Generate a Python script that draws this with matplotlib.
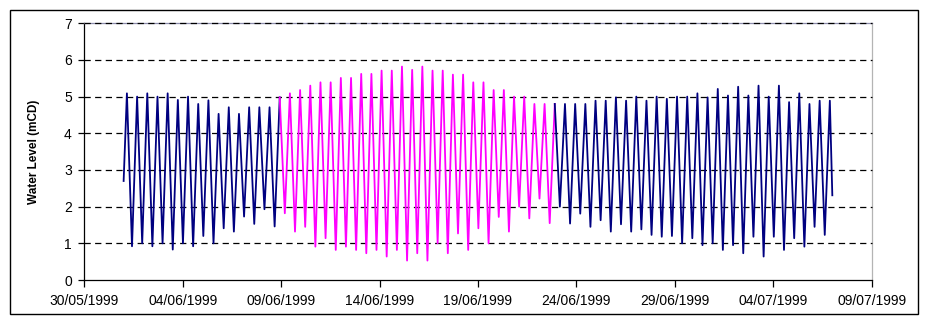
import matplotlib.dates as mdates
import matplotlib.pyplot as plt
import numpy as np
import pandas as pd
from matplotlib.patches import Rectangle

plt.rcParams["font.family"] = ["Liberation Sans", "DejaVu Sans"]

# 潮位极值（高低潮交替，mCD），按时间顺序
levels_early_june = [
    5.09, 0.92, 5.00, 1.00, 5.09, 0.92, 5.00, 1.00, 5.09, 0.83,
    4.91, 1.00, 5.00, 0.92, 4.80, 1.20, 4.90, 1.00, 4.53, 1.41,
    4.71, 1.32, 4.53, 1.73, 4.71, 1.53, 4.71, 1.93, 4.71, 1.46,
    4.98,
]
levels_spring = [
    1.82, 5.09, 1.32, 5.18, 1.45, 5.30, 0.91, 5.39, 1.14, 5.39,
    0.82, 5.51, 0.91, 5.51, 0.82, 5.62, 0.73, 5.62, 0.82, 5.71,
    0.64, 5.71, 0.82, 5.82, 0.53, 5.73, 0.73, 5.82, 0.53, 5.71,
    1.00, 5.71, 0.73, 5.60, 1.27, 5.60, 0.82, 5.39, 1.41, 5.39,
    1.00, 5.18, 1.72, 5.18, 1.32, 5.00, 2.00, 5.00, 1.68, 4.80,
    2.22, 4.80, 1.55, 4.80,
]
levels_late = [
    2.00, 4.80, 1.54, 4.80, 1.81, 4.80, 1.45, 4.89, 1.63, 4.89,
    1.32, 4.98, 1.52, 4.89, 1.32, 5.00, 1.38, 4.89, 1.23, 5.00,
    1.18, 4.94, 1.20, 5.00, 1.00, 5.00, 1.14, 5.09, 0.95, 4.98,
    1.00, 5.21, 0.82, 5.03, 0.95, 5.27, 0.73, 5.03, 1.18, 5.30,
    0.64, 5.00, 1.18, 5.30, 0.82, 4.85, 1.14, 5.09, 0.91, 4.80,
    1.45, 4.89, 1.23, 4.89,
]
start_time, start_level = "1999-06-01 00:00", 2.70
end_time, end_level = "1999-07-07 00:00", 2.31
first_high_time = "1999-06-01 04:00"
half_tide = pd.Timedelta(minutes=372.6)

x_ticks = pd.date_range("1999-05-30", "1999-07-09", freq="5D")
y_ticks = [0, 1, 2, 3, 4, 5, 6, 7]


def plot_water_level():
    levels = levels_early_june + levels_spring + levels_late
    times = pd.Timestamp(first_high_time) + np.arange(len(levels)) * half_tide
    n1 = len(levels_early_june)
    n2 = n1 + len(levels_spring)

    # 三段：前后两段深蓝，中间大潮段品红，相邻段共用一个极值点
    t_a = [pd.Timestamp(start_time)] + list(times[:n1])
    y_a = [start_level] + levels[:n1]
    t_b = list(times[n1 - 1:n2])
    y_b = levels[n1 - 1:n2]
    t_c = list(times[n2 - 1:]) + [pd.Timestamp(end_time)]
    y_c = levels[n2 - 1:] + [end_level]

    fig = plt.figure(figsize=(9.3, 3.24), dpi=100)
    ax = fig.add_axes([0.0906, 0.1358, 0.8467, 0.7923])

    # 虚线网格画在边框之上
    for yv in y_ticks[1:]:
        ax.axhline(yv, color="black", lw=0.9, ls=(0, (5, 3.5)), zorder=2.6,
                   clip_on=False)

    ax.plot(t_a, y_a, color="#000080", lw=1.3, zorder=3)
    ax.plot(t_b, y_b, color="#FF00FF", lw=1.3, zorder=3)
    ax.plot(t_c, y_c, color="#000080", lw=1.3, zorder=3)

    ax.set_xlim(x_ticks[0], x_ticks[-1])
    ax.set_ylim(0, 7)
    ax.set_xticks(x_ticks)
    ax.xaxis.set_major_formatter(mdates.DateFormatter("%d/%m/%Y"))
    ax.set_yticks(y_ticks)
    ax.tick_params(axis="both", labelsize=10, width=0.9, direction="out")
    ax.tick_params(axis="y", length=4, pad=5)
    ax.tick_params(axis="x", length=5, pad=5)

    ax.spines["left"].set_color("black")
    ax.spines["bottom"].set_color("black")
    ax.spines["top"].set_color("#8c8cac")
    ax.spines["right"].set_color("#b4b4b4")
    for s in ax.spines.values():
        s.set_linewidth(0.9)

    ax.set_ylabel("Water Level (mCD)", fontsize=8.5, fontweight="bold", labelpad=17)

    # 外框
    fig.patches.append(
        Rectangle((0.01075, 0.0309), 0.9763, 0.938, transform=fig.transFigure,
                  fill=False, edgecolor="black", lw=1.0)
    )

    fig.savefig("out.png", dpi=100)


if __name__ == "__main__":
    plot_water_level()
